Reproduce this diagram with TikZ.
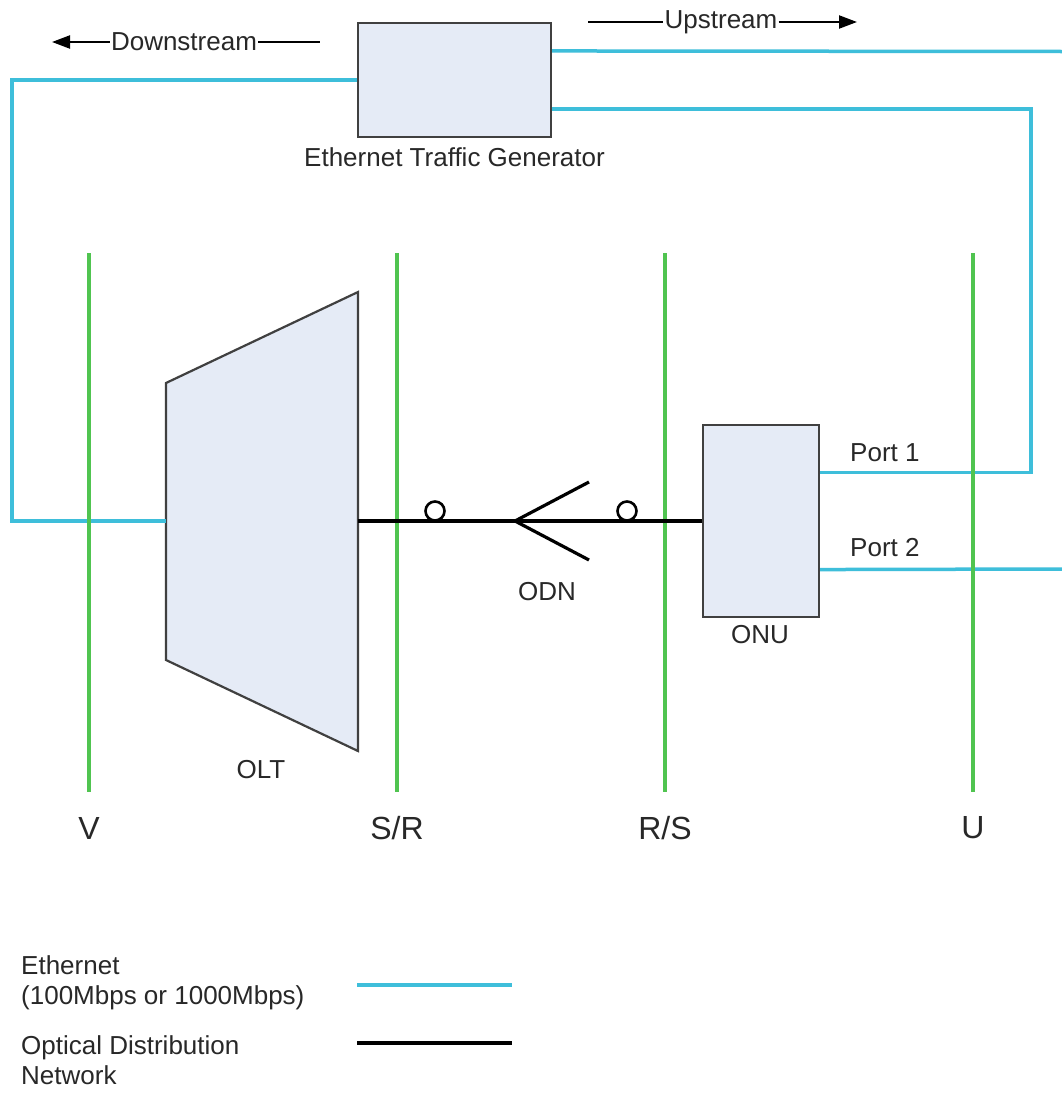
\documentclass[tikz,border=0pt]{standalone}
\usepackage{fontspec}
\setmainfont{Liberation Sans}
\usetikzlibrary{arrows.meta,calc}
\definecolor{eth}{RGB}{62,190,218}
\definecolor{ref}{RGB}{80,196,80}
\definecolor{boxfill}{RGB}{229,235,246}
\definecolor{boxline}{RGB}{64,64,64}
\definecolor{txt}{RGB}{40,40,40}
\tikzset{
  ethline/.style={draw=eth,line width=3.5pt},
  refline/.style={draw=ref,line width=3.2pt},
  odnline/.style={draw=black,line width=3.2pt},
  devbox/.style={draw=boxline,fill=boxfill,line width=2.2pt,rectangle,inner sep=0pt},
  lbl/.style={text=txt,font=\fontsize{26}{30}\selectfont,inner sep=1pt},
  reflbl/.style={text=txt,font=\fontsize{32}{36}\selectfont,inner sep=0pt},
  conn/.style={draw=black,line width=2.6pt,fill=white,circle,minimum size=19pt,inner sep=0pt},
  dirarrow/.style={draw=black,line width=2.2pt,-{Triangle[length=18pt,width=13pt]}},
  dirline/.style={draw=black,line width=2.2pt},
}
\begin{document}
\begin{tikzpicture}[x=1pt,y=-1pt]
\useasboundingbox (0,0) rectangle (1062,1095);
\fill[white] (0,0) rectangle (1062,1095);

% reference lines
\coordinate (rvT) at (89,253);   \coordinate (rvB) at (89,792);
\coordinate (rsrT) at (397,253); \coordinate (rsrB) at (397,792);
\coordinate (rrsT) at (665,253); \coordinate (rrsB) at (665,792);
\coordinate (ruT) at (973,253);  \coordinate (ruB) at (973,792);
\draw[refline] (rsrT) -- (rsrB);
\draw[refline] (rrsT) -- (rrsB);
\node[reflbl] (rvlab) at (89,828) {V};
\node[reflbl] (rsrlab) at (397,828) {S/R};
\node[reflbl] (rrslab) at (665,828) {R/S};
\node[reflbl] (rulab) at (973,828) {U};

% traffic generator
\node[devbox,minimum width=193pt,minimum height=114pt] (tg) at (454.5,80) {};
\node[lbl] (tglab) at (454.5,157) {Ethernet Traffic Generator};

% OLT
\coordinate (oltTL) at (166,383);
\coordinate (oltTR) at (358,292);
\coordinate (oltBR) at (358,751);
\coordinate (oltBL) at (166,660);
\draw[draw=boxline,fill=boxfill,line width=2.2pt,line join=miter] (oltTL) -- (oltTR) -- (oltBR) -- (oltBL) -- cycle;
\coordinate (oltIn) at (166,521);
\coordinate (oltOut) at (358,521);
\node[lbl] (oltlab) at (261,770) {OLT};

% ONU
\node[devbox,minimum width=116pt,minimum height=192pt] (onu) at (761,521) {};
\node[lbl] (onulab) at (760,635) {ONU};
\coordinate (p1) at ($(onu.north east)!0.25!(onu.south east)$);
\coordinate (p2) at ($(onu.north east)!0.75!(onu.south east)$);
\node[lbl,anchor=west] (p1lab) at (849,453) {Port 1};
\node[lbl,anchor=west] (p2lab) at (849,548) {Port 2};

% Ethernet links
\coordinate (tgR1) at ($(tg.north east)!0.25!(tg.south east)$);
\coordinate (tgR2) at ($(tg.north east)!0.75!(tg.south east)$);
\coordinate (leftX) at (12,0);
\coordinate (edge1) at (1062,51.5);
\coordinate (edge2) at (1062,569);
\coordinate (turnX) at (1031,0);
\draw[ethline,line join=miter] (tg.west) -- (tg.west -| leftX) -- (oltIn -| leftX) -- (oltIn);
\draw[ethline] (tgR1) -- (edge1);
\draw[ethline,line join=miter] (tgR2) -- (tgR2 -| turnX) -- (p1 -| turnX) -- (p1);
\draw[ethline] (p2) -- (edge2);

% green lines crossing Ethernet links
\draw[refline] (rvT) -- (rvB);
\draw[refline] (ruT) -- (ruB);

% ODN
\draw[odnline] (oltOut) -- (onu.west);
\node[conn] (c1) at (435,511) {};
\node[conn] (c2) at (627,511) {};
\coordinate (split) at (515,521);
\coordinate (splitU) at (589,482);
\coordinate (splitD) at (589,560);
\draw[odnline] (splitU) -- (split) -- (splitD);
\node[lbl] (odnlab) at (547,592) {ODN};

% direction labels
\node[lbl] (ds) at (184,42) {Downstream};
\coordinate (dsTip) at (52,42);
\coordinate (dsEnd) at (320,42);
\draw[dirarrow] (ds.west) -- (dsTip);
\draw[dirline] (ds.east) -- (dsEnd);
\node[lbl] (us) at (721,22) {Upstream};
\coordinate (usStart) at (588,22);
\coordinate (usTip) at (857,22);
\draw[dirline] (usStart) -- (us.west);
\draw[dirarrow] (us.east) -- (usTip);

% legend
\node[lbl,anchor=west,align=left] (leg1) at (20,983) {Ethernet\\(100Mbps or 1000Mbps)};
\node[lbl,anchor=west,align=left] (leg2) at (20,1060) {Optical Distribution\\Network};
\coordinate (lg1a) at (357,985);
\coordinate (lg1b) at (512,985);
\coordinate (lg2a) at (357,1043);
\coordinate (lg2b) at (512,1043);
\draw[ethline] (lg1a) -- (lg1b);
\draw[odnline] (lg2a) -- (lg2b);
\end{tikzpicture}
\end{document}
